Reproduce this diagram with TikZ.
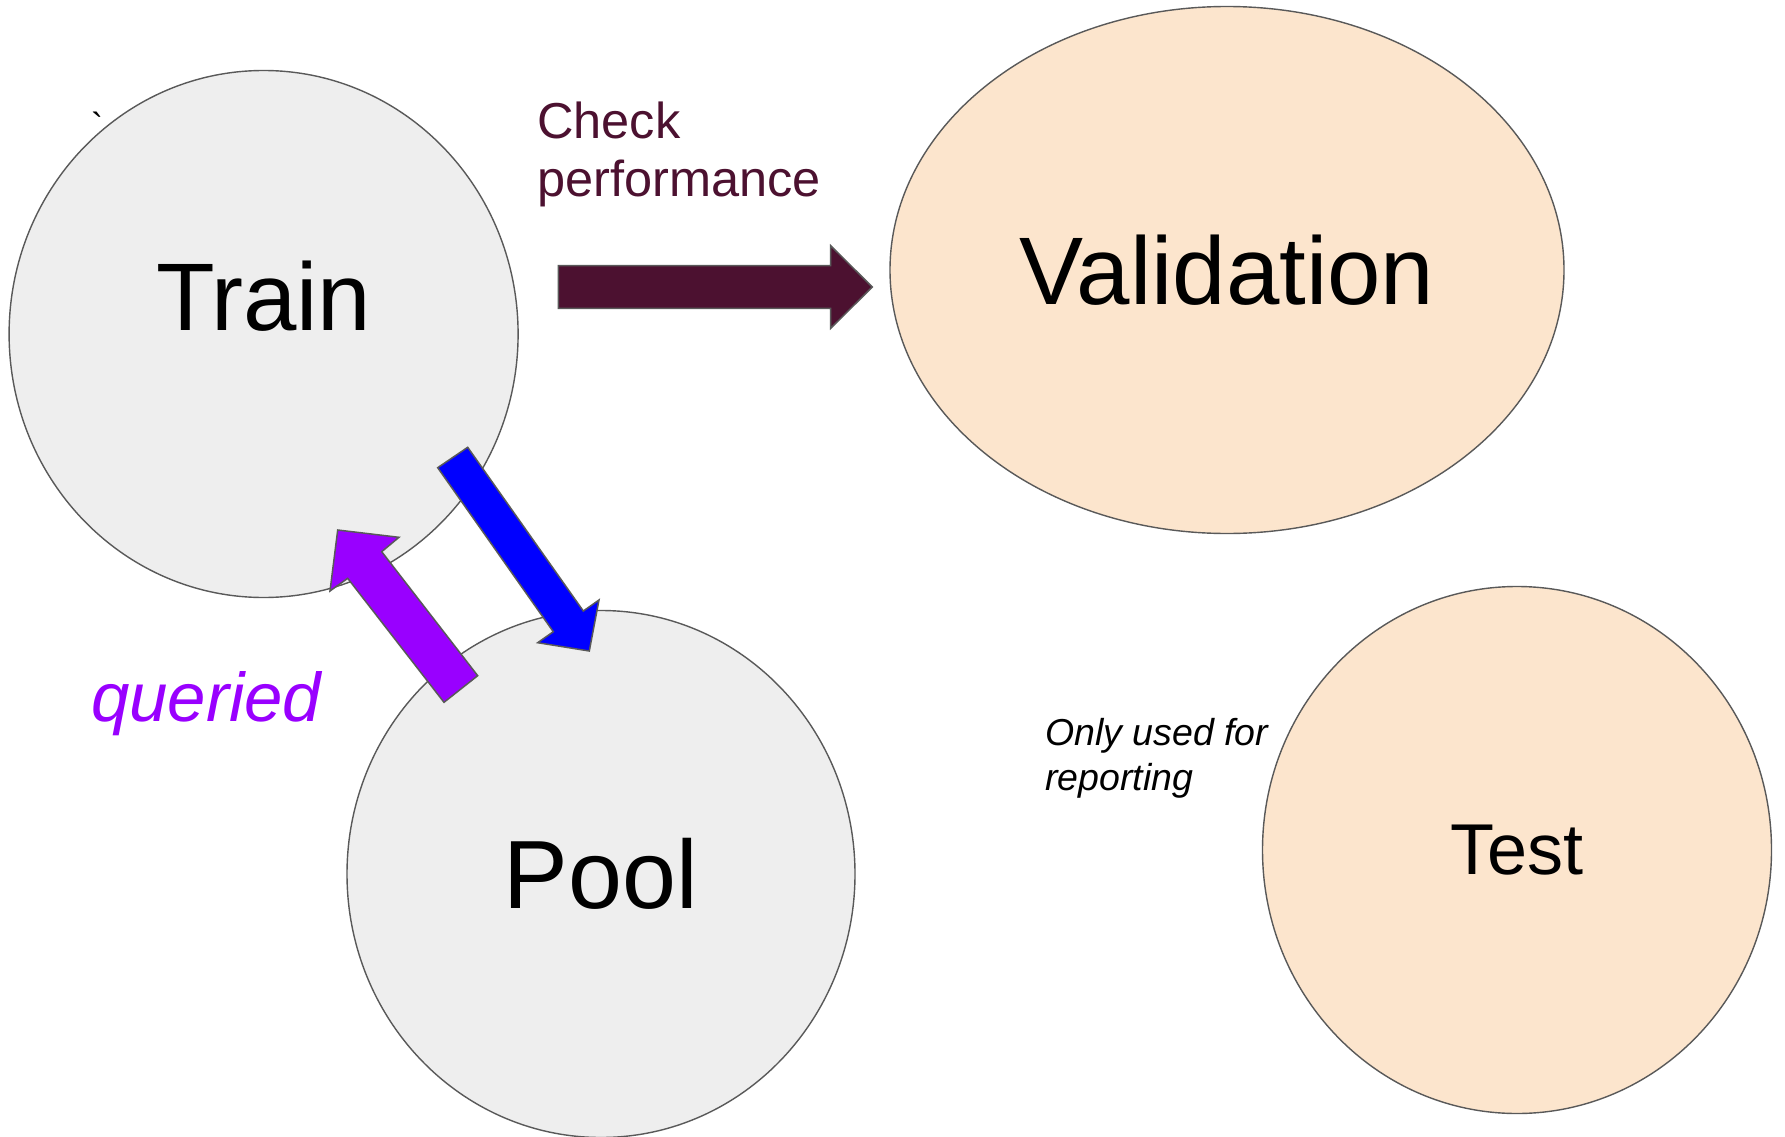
\documentclass[tikz,border=0pt]{standalone}
\usepackage{fontspec}
\setmainfont{Liberation Sans}
\newfontfamily\gravefont{Liberation Sans}
\usetikzlibrary{shapes.geometric}

\definecolor{edgegray}{HTML}{595959}
\definecolor{setgray}{HTML}{EEEEEE}
\definecolor{setpeach}{HTML}{FCE5CD}
\definecolor{berry}{HTML}{4C1130}
\definecolor{violet}{HTML}{9900FF}
\definecolor{pureblue}{HTML}{0000FF}

\begin{document}
\begin{tikzpicture}[x=1pt,y=-1pt,
  setnode/.style={ellipse, draw=edgegray, line width=1.4pt, inner sep=0pt,
    minimum width=#1*2pt, minimum height=527pt},
  graysets/.style={setnode=#1, fill=setgray},
  peachsets/.style={setnode=#1, fill=setpeach},
  blockarrow/.style={draw=edgegray, line width=1.5pt, line join=miter, fill=#1},
  setlabel/.style={inner sep=0pt, text=black},
  note/.style={inner sep=0pt, anchor=base west, align=left}
]
\useasboundingbox (0,0) rectangle (1785,1137);
\fill[white] (0,0) rectangle (1785,1137);

% the four data sets
\node[graysets=254.5] (train) at (263.6,334) {};
\node[graysets=254] (pool) at (601,874) {};
\node[peachsets=337] (validation) at (1227,270) {};
\node[peachsets=254.5] (test) at (1517,850) {};

\node[setlabel, font=\fontsize{96}{115}\selectfont] (trainlabel)
  at ([yshift=38pt]train.center) {Train};
\node[setlabel, font=\fontsize{97}{116}\selectfont] (poollabel)
  at (pool.center) {Pool};
\node[setlabel, font=\fontsize{96}{115}\selectfont] (validationlabel)
  at (validation.center) {Validation};
\node[setlabel, font=\fontsize{72}{86}\selectfont] (testlabel)
  at (test.center) {Test};

% block arrows
\draw[blockarrow=berry] (558.3,265.7) -- (830.7,265.7) -- (830.7,245.7)
  -- (872.3,287) -- (830.7,328.3) -- (830.7,308.3) -- (558.3,308.3) -- cycle;
\draw[blockarrow=pureblue] (437.7,467.7) -- (467.7,447.3) -- (583.3,611)
  -- (599,600) -- (589.3,651) -- (537.7,642.7) -- (553.3,631.7) -- cycle;
\draw[blockarrow=violet] (444,702.3) -- (477.7,675.7) -- (381.7,551.7)
  -- (399,537.3) -- (337.7,530) -- (330,591) -- (347.7,578.3) -- cycle;

% annotations (multi-line notes are placed by their last baseline)
\node[note, text=berry, font=\fontsize{50.5}{58.4}\selectfont] (check)
  at (537,196.7) {Check\\performance};
\node[note, text=violet, font=\fontsize{69}{80}\selectfont\itshape] (queried)
  at (91,721) {queried};
\node[note, font=\fontsize{37.5}{44.3}\selectfont\itshape] (reporting)
  at (1045,790) {Only used for\\reporting};
\node[note, font=\fontsize{36}{44}\gravefont] (tick) at (91,139) {`};
\end{tikzpicture}
\end{document}
